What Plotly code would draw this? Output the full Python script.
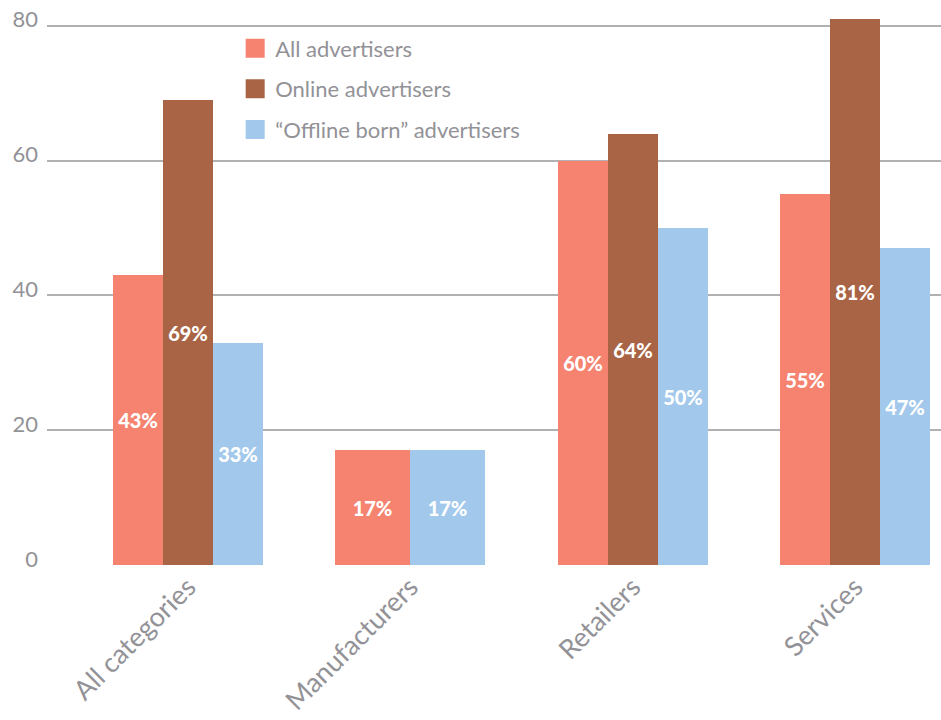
import plotly.graph_objects as go

# Share of advertisers (%) by advertiser category
categories = ["All categories", "Manufacturers", "Retailers", "Services"]
series_names = ["All advertisers", "Online advertisers", "\u201cOffline born\u201d advertisers"]
all_advertisers = [43, 17, 60, 55]
online_advertisers = [69, None, 64, 81]
offline_born = [33, 17, 50, 47]
y_ticks = [0, 20, 40, 60, 80]

series_values = [all_advertisers, online_advertisers, offline_born]
colors = ["#F58370", "#A86444", "#A2C8EB"]

FONT = "Lato"
GRAY = "#929297"
GROUP_WIDTH = 0.675

# Bars in each category share the same total width, split among the series present
widths = [[0] * len(categories) for _ in series_values]
offsets = [[0] * len(categories) for _ in series_values]
for ci in range(len(categories)):
    present = [si for si, vals in enumerate(series_values) if vals[ci] is not None]
    w = GROUP_WIDTH / len(present)
    for k, si in enumerate(present):
        widths[si][ci] = w
        offsets[si][ci] = -GROUP_WIDTH / 2 + k * w

fig = go.Figure()
for si, (name, vals, col) in enumerate(zip(series_names, series_values, colors)):
    fig.add_trace(go.Bar(
        x=categories,
        y=vals,
        width=widths[si],
        offset=offsets[si],
        marker=dict(color=col, line=dict(width=0)),
        text=[f"{v}%" if v is not None else "" for v in vals],
        textposition="inside",
        insidetextanchor="middle",
        textangle=0,
        textfont=dict(family=FONT, size=20, color="white", weight=900),
        showlegend=False,
        name=name,
    ))
    # legend entry with a larger square swatch
    fig.add_trace(go.Scatter(
        x=[None], y=[None], mode="markers", name=name,
        marker=dict(symbol="square", size=16, color=col,
                    line=dict(color=col, width=3)),
        legendgroup=f"g{si}",
    ))

fig.update_layout(
    width=941, height=720,
    margin=dict(l=47, r=0, t=19, b=155, autoexpand=False),
    paper_bgcolor="white", plot_bgcolor="white",
    barmode="overlay",
    font=dict(family=FONT, color=GRAY),
    legend=dict(
        x=0.2105, y=0.9845, xanchor="left", yanchor="top",
        font=dict(family=FONT, size=22, color=GRAY, weight=400),
        bgcolor="rgba(0,0,0,0)",
        itemsizing="trace",
        tracegroupgap=9,
    ),
    xaxis=dict(
        type="category",
        range=[-0.634, 3.387],
        tickangle=-45,
        tickfont=dict(family=FONT, size=27, color=GRAY, weight=400),
        showgrid=False, zeroline=False, showline=False,
        ticks="",
    ),
    yaxis=dict(
        range=[0, 81],
        tickvals=y_ticks,
        tickfont=dict(family=FONT, size=22, color=GRAY, weight=400),
        showgrid=True, gridcolor="#b1b1b4", gridwidth=2,
        zeroline=False, showline=False,
        ticks="", ticklabelstandoff=8,
        ticklabelshift=-6,
    ),
    bargap=0,
)

fig.write_html("out.html")
